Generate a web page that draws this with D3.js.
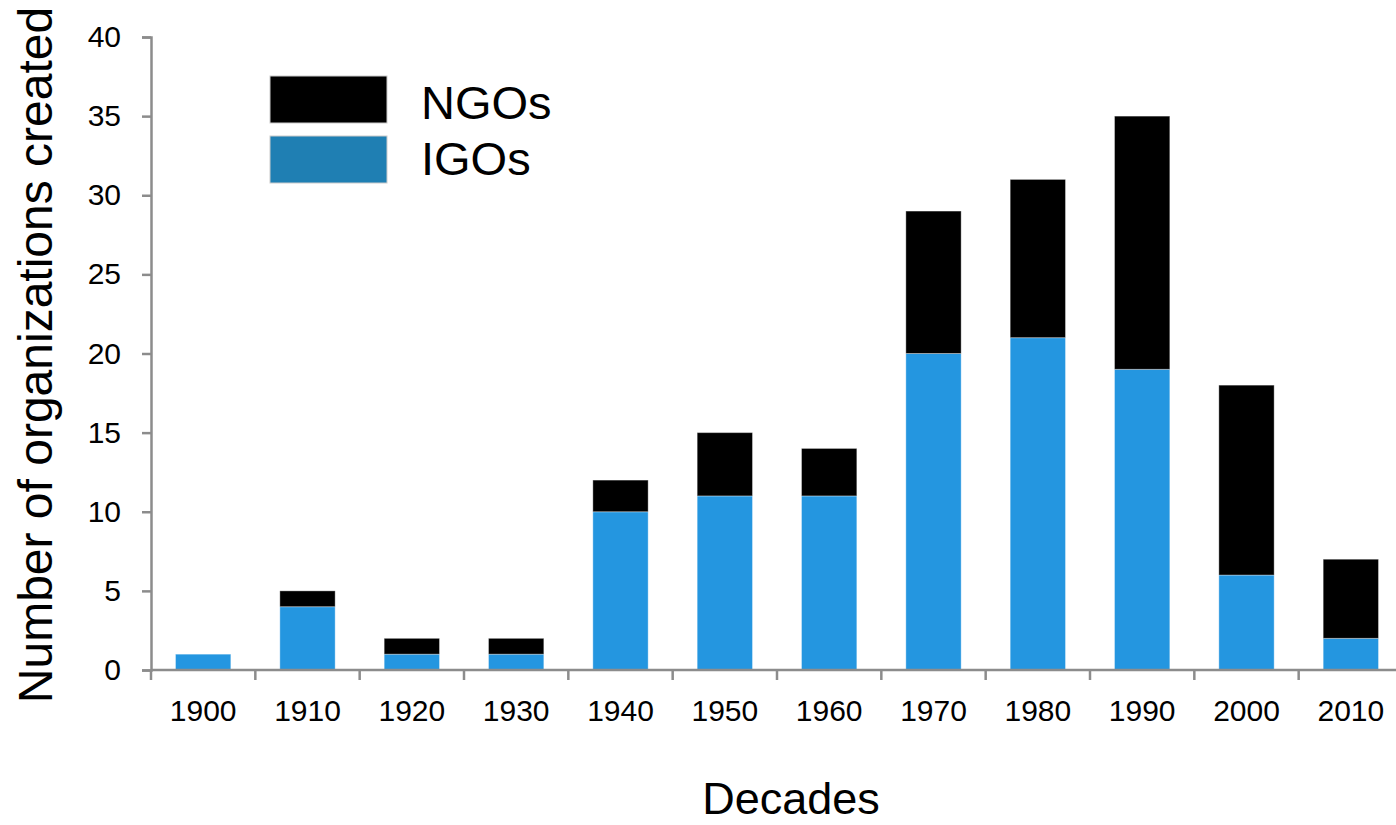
<!DOCTYPE html>
<html>
<head>
<meta charset="utf-8">
<script src="https://cdn.jsdelivr.net/npm/d3@7"></script>
<style>
  html, body { margin: 0; padding: 0; background: #fff; }
  svg { display: block; font-family: "Liberation Sans", Arial, sans-serif; }
</style>
</head>
<body>
<svg id="chart" width="1396" height="825"></svg>
<script>
// Organizations created per decade, split by type
const decades = ["1900", "1910", "1920", "1930", "1940", "1950", "1960", "1970", "1980", "1990", "2000", "2010"];
const igos = [1, 4, 1, 1, 10, 11, 11, 20, 21, 19, 6, 2];
const ngos = [0, 1, 1, 1, 2, 4, 3, 9, 10, 16, 12, 5];
const yTicks = [0, 5, 10, 15, 20, 25, 30, 35, 40];
const seriesNames = ["NGOs", "IGOs"];

const svg = d3.select("#chart");
const plot = { left: 151, right: 1403, top: 37, bottom: 670 };

const x = d3.scaleBand().domain(decades).range([plot.left, plot.right]).paddingInner(0.47).paddingOuter(0.235);
const y = d3.scaleLinear().domain([0, 40]).range([plot.bottom, plot.top]);

const rows = decades.map((d, i) => ({ decade: d, IGOs: igos[i], NGOs: ngos[i] }));
const stacked = d3.stack().keys(["IGOs", "NGOs"])(rows);
const fills = { IGOs: "#2496e0", NGOs: "#000000" };

// stacked bars
svg.append("g").selectAll("g")
  .data(stacked).join("g")
  .attr("fill", s => fills[s.key])
  .selectAll("rect")
  .data(s => s.filter(d => d[1] - d[0] > 0))
  .join("rect")
  .attr("x", d => x(d.data.decade))
  .attr("width", x.bandwidth())
  .attr("y", d => y(d[1]))
  .attr("height", d => y(d[0]) - y(d[1]))
  .attr("stroke", "#ffffff")
  .attr("stroke-opacity", 0.35)
  .attr("stroke-width", 1);

const axisColor = "#8c8c8c";

// y axis
const yAxis = svg.append("g")
  .attr("transform", `translate(${plot.left},0)`)
  .call(d3.axisLeft(y).tickValues(yTicks).tickSize(9).tickPadding(21));
yAxis.select(".domain").attr("stroke", axisColor).attr("stroke-width", 2.5);
yAxis.selectAll(".tick line").attr("stroke", axisColor).attr("stroke-width", 2.5);
yAxis.selectAll(".tick text").attr("fill", "#000").attr("font-size", 30)
  .attr("font-family", "Liberation Sans, Arial, sans-serif");

// x axis with ticks at band edges
const edges = decades.map(d => x(d) - x.step() * x.paddingInner() / 2);
edges.push(plot.right);
const xg = svg.append("g");
xg.append("line")
  .attr("x1", plot.left).attr("x2", plot.right)
  .attr("y1", plot.bottom).attr("y2", plot.bottom)
  .attr("stroke", axisColor).attr("stroke-width", 2.5);
xg.selectAll("line.tk").data(edges).join("line")
  .attr("class", "tk")
  .attr("x1", d => d).attr("x2", d => d)
  .attr("y1", plot.bottom).attr("y2", plot.bottom + 10)
  .attr("stroke", axisColor).attr("stroke-width", 2.5);
xg.selectAll("text").data(decades).join("text")
  .attr("x", d => x(d) + x.bandwidth() / 2)
  .attr("y", 721)
  .attr("text-anchor", "middle")
  .attr("font-size", 30)
  .text(d => d);

// axis titles
svg.append("text")
  .attr("x", 791).attr("y", 814)
  .attr("text-anchor", "middle")
  .attr("font-size", 45)
  .text("Decades");
svg.append("text")
  .attr("transform", "translate(52,355) rotate(-90)")
  .attr("text-anchor", "middle")
  .attr("font-size", 48)
  .text("Number of organizations created");

// legend
const legendFills = { NGOs: "#000000", IGOs: "#1f7fb3" };
const lg = svg.append("g");
seriesNames.forEach((name, i) => {
  lg.append("rect")
    .attr("x", 270).attr("y", 76 + i * 60)
    .attr("width", 117).attr("height", 47)
    .attr("fill", legendFills[name])
    .attr("stroke", "#ccc").attr("stroke-width", 1);
  lg.append("text")
    .attr("x", 421).attr("y", 119 + i * 56)
    .attr("font-size", 47)
    .text(name);
});
</script>
</body>
</html>
